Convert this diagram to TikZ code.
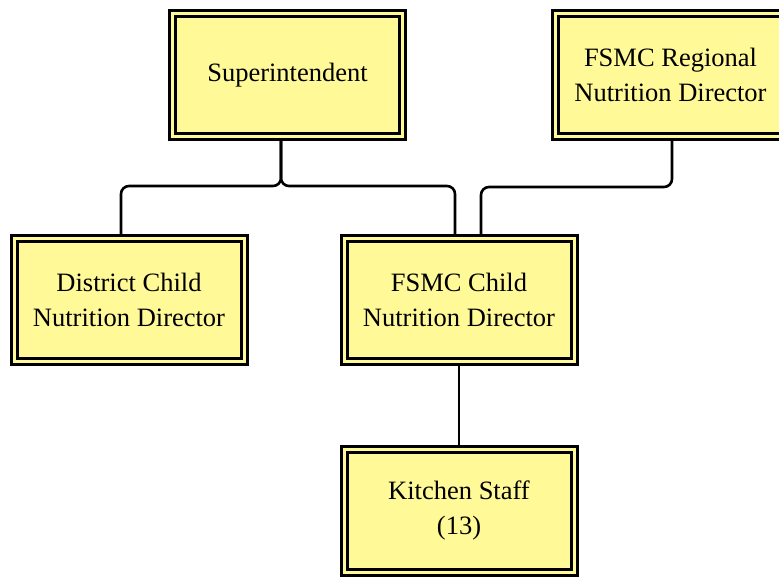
\documentclass[tikz,border=0pt]{standalone}
\usepackage{fontspec}
\setmainfont{Liberation Serif}
\usetikzlibrary{backgrounds}
\definecolor{boxfill}{HTML}{FFF998}
\tikzset{
  orgbox/.style={rectangle, fill=boxfill, draw=black, line width=3pt,
    double=boxfill, double distance=3pt,
    minimum width=230pt, minimum height=123pt, inner sep=0pt,
    align=center, font=\fontsize{26.5}{35}\selectfont},
  conn/.style={draw=black, line width=2.6pt, rounded corners=8pt}
}
\begin{document}
\begin{tikzpicture}[x=1pt, y=-1pt]
  \clip (0,0) rectangle (779,576);

  % boxes
  \node[orgbox] (sup) at (287.5,75) {Superintendent};
  \node[orgbox] (reg) at (670.5,74.5) {FSMC Regional\\Nutrition Director};
  \node[orgbox] (dist) at (129,299.5) {District Child\\Nutrition Director};
  \node[orgbox] (child) at (459,299.5) {FSMC Child\\Nutrition Director};
  \node[orgbox] (kit) at (459,510.5) {Kitchen Staff\\(13)};

  % reporting lines, drawn behind the boxes
  \coordinate (bus) at (281,186);
  \coordinate (regbus) at (672,187);
  \begin{pgfonlayer}{background}
    \fill[white] (0,0) rectangle (779,576);
    \draw[conn] ([xshift=-6.5pt]sup.south) -- (bus) -| ([xshift=-8pt]dist.north);
    \draw[conn] ([xshift=-6.5pt]sup.south) -- (bus) -| ([xshift=-4pt]child.north);
    \draw[conn] ([xshift=1.5pt]reg.south) -- (regbus) -| ([xshift=22pt]child.north);
    \draw[conn] (child.south) -- (kit.north);
  \end{pgfonlayer}
\end{tikzpicture}
\end{document}
